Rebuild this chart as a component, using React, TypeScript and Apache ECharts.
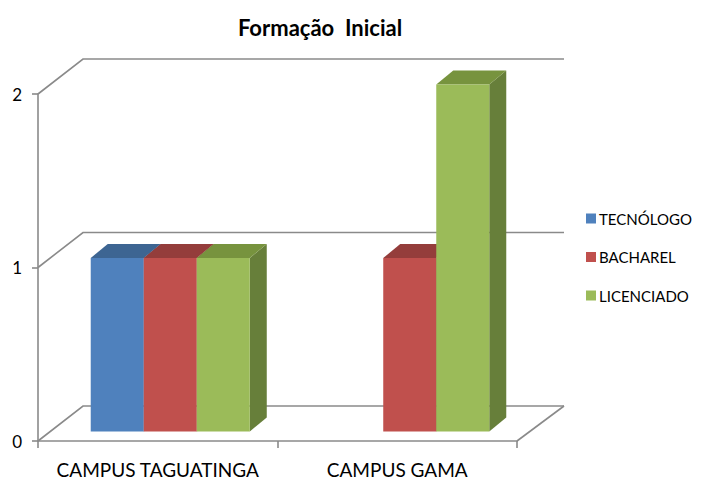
import React, { useEffect, useRef } from "react";
import * as echarts from "echarts";

const categories = ["CAMPUS TAGUATINGA", "CAMPUS GAMA"];
const seriesNames = ["TECNÓLOGO", "BACHAREL", "LICENCIADO"];
const tecnologo = [1, 0];
const bacharel = [1, 1];
const licenciado = [1, 2];
const yTicks = [0, 1, 2];
const frontColors = ["#4F81BD", "#C0504D", "#9BBB59"];
const topColors = ["#3D6592", "#943D3B", "#77933E"];
const sideColors = ["#34567E", "#7E3230", "#677F3A"];

const FONT = "Lato, 'Noto Sans', sans-serif";
const GRID_COLOR = "#8a8a8a";
// oblique depth of the whole floor
const DEPTH_X = 45;
const DEPTH_Y = -35;
// bar front plane offset & bar depth
const BAR_OFF_X = 12.5;
const BAR_OFF_Y = -9.5;
const BAR_D_X = 17;
const BAR_D_Y = -14;
const BAND_FILL = 0.664;

export default function App() {
  const ref = useRef<HTMLDivElement>(null);
  useEffect(() => {
    if (!ref.current) return;
    const chart = echarts.init(ref.current, null, { renderer: "svg" });
    const allSeries = [tecnologo, bacharel, licenciado];

    const barSeries = allSeries.map((vals, si) => ({
      name: seriesNames[si],
      type: "custom",
      z: 5 + si,
      clip: false,
      itemStyle: { color: frontColors[si] },
      data: vals.map((v, i) => [i, v]),
      renderItem: (params: any, api: any) => {
        const v = api.value(1);
        if (!v) return null;
        const ci = api.value(0);
        const base = api.coord([ci, 0]);
        const top = api.coord([ci, v]);
        const band = api.size([1, 0])[0];
        const bw = (band * BAND_FILL) / 3;
        const x = base[0] - 1.5 * bw + si * bw + BAR_OFF_X;
        const yb = base[1] + BAR_OFF_Y;
        const yt = top[1] + BAR_OFF_Y;
        return {
          type: "group",
          children: [
            {
              type: "polygon",
              shape: {
                points: [
                  [x + bw, yt],
                  [x + bw + BAR_D_X, yt + BAR_D_Y],
                  [x + bw + BAR_D_X, yb + BAR_D_Y],
                  [x + bw, yb],
                ],
              },
              style: { fill: sideColors[si] },
            },
            {
              type: "polygon",
              shape: {
                points: [
                  [x, yt],
                  [x + bw, yt],
                  [x + bw + BAR_D_X, yt + BAR_D_Y],
                  [x + BAR_D_X, yt + BAR_D_Y],
                ],
              },
              style: { fill: topColors[si] },
            },
            {
              type: "rect",
              shape: { x, y: yt, width: bw, height: yb - yt },
              style: { fill: frontColors[si] },
            },
          ],
        };
      },
    }));

    const gridSeries = {
      name: "grid3d",
      type: "custom",
      z: 1,
      clip: false,
      silent: true,
      data: yTicks.map((t) => [0, t]),
      renderItem: (params: any, api: any) => {
        const v = api.value(1);
        const p = api.coord([0, v]);
        const gx = params.coordSys.x;
        const gw = params.coordSys.width;
        const y = p[1];
        const children: any[] = [
          {
            type: "polyline",
            shape: {
              points: [
                [gx, y],
                [gx + DEPTH_X, y + DEPTH_Y],
                [gx + gw + DEPTH_X + 2, y + DEPTH_Y],
              ],
            },
            style: { stroke: GRID_COLOR, lineWidth: 1.6, fill: null },
          },
        ];
        if (v === 0) {
          children.push({
            type: "line",
            shape: {
              x1: gx + gw,
              y1: y,
              x2: gx + gw + DEPTH_X + 2,
              y2: y + DEPTH_Y,
            },
            style: { stroke: GRID_COLOR, lineWidth: 1.6 },
          });
        }
        return { type: "group", children };
      },
    };

    chart.setOption({
      animation: false,
      backgroundColor: "#ffffff",
      title: {
        text: "Formação  Inicial",
        left: 315,
        textAlign: "center",
        top: 11,
        textStyle: {
          fontFamily: FONT,
          fontSize: 22,
          fontWeight: "bold",
          color: "#000000",
        },
      },
      legend: {
        orient: "vertical",
        left: 581,
        top: 206,
        itemWidth: 10,
        itemHeight: 10,
        itemGap: 23.5,
        icon: "rect",
        data: seriesNames,
        textStyle: { fontFamily: FONT, fontSize: 15, color: "#000000", padding: [0, 0, 0, -2] },
      },
      grid: { left: 38, top: 94, width: 479, height: 347 },
      xAxis: {
        type: "category",
        data: categories,
        axisLine: { show: true, lineStyle: { color: GRID_COLOR, width: 1.6 } },
        axisTick: { show: true, length: 7, lineStyle: { color: GRID_COLOR, width: 1.6 } },
        axisLabel: {
          interval: 0,
          margin: 19,
          fontFamily: FONT,
          fontSize: 19,
          lineHeight: 19,
          color: "#000000",
        },
        splitLine: { show: false },
      },
      yAxis: {
        type: "value",
        min: 0,
        max: 2,
        interval: 1,
        axisLine: { show: true, lineStyle: { color: GRID_COLOR, width: 1.6 } },
        axisTick: { show: true, length: 6, lineStyle: { color: GRID_COLOR, width: 1.6 } },
        axisLabel: {
          margin: 16,
          fontFamily: FONT,
          fontSize: 17,
          color: "#000000",
        },
        splitLine: { show: false },
      },
      series: [gridSeries, ...barSeries],
    });
    return () => chart.dispose();
  }, []);
  return (
    <div
      ref={ref}
      style={{ position: "fixed", left: 0, top: 0, width: 701, height: 481 }}
    />
  );
}
